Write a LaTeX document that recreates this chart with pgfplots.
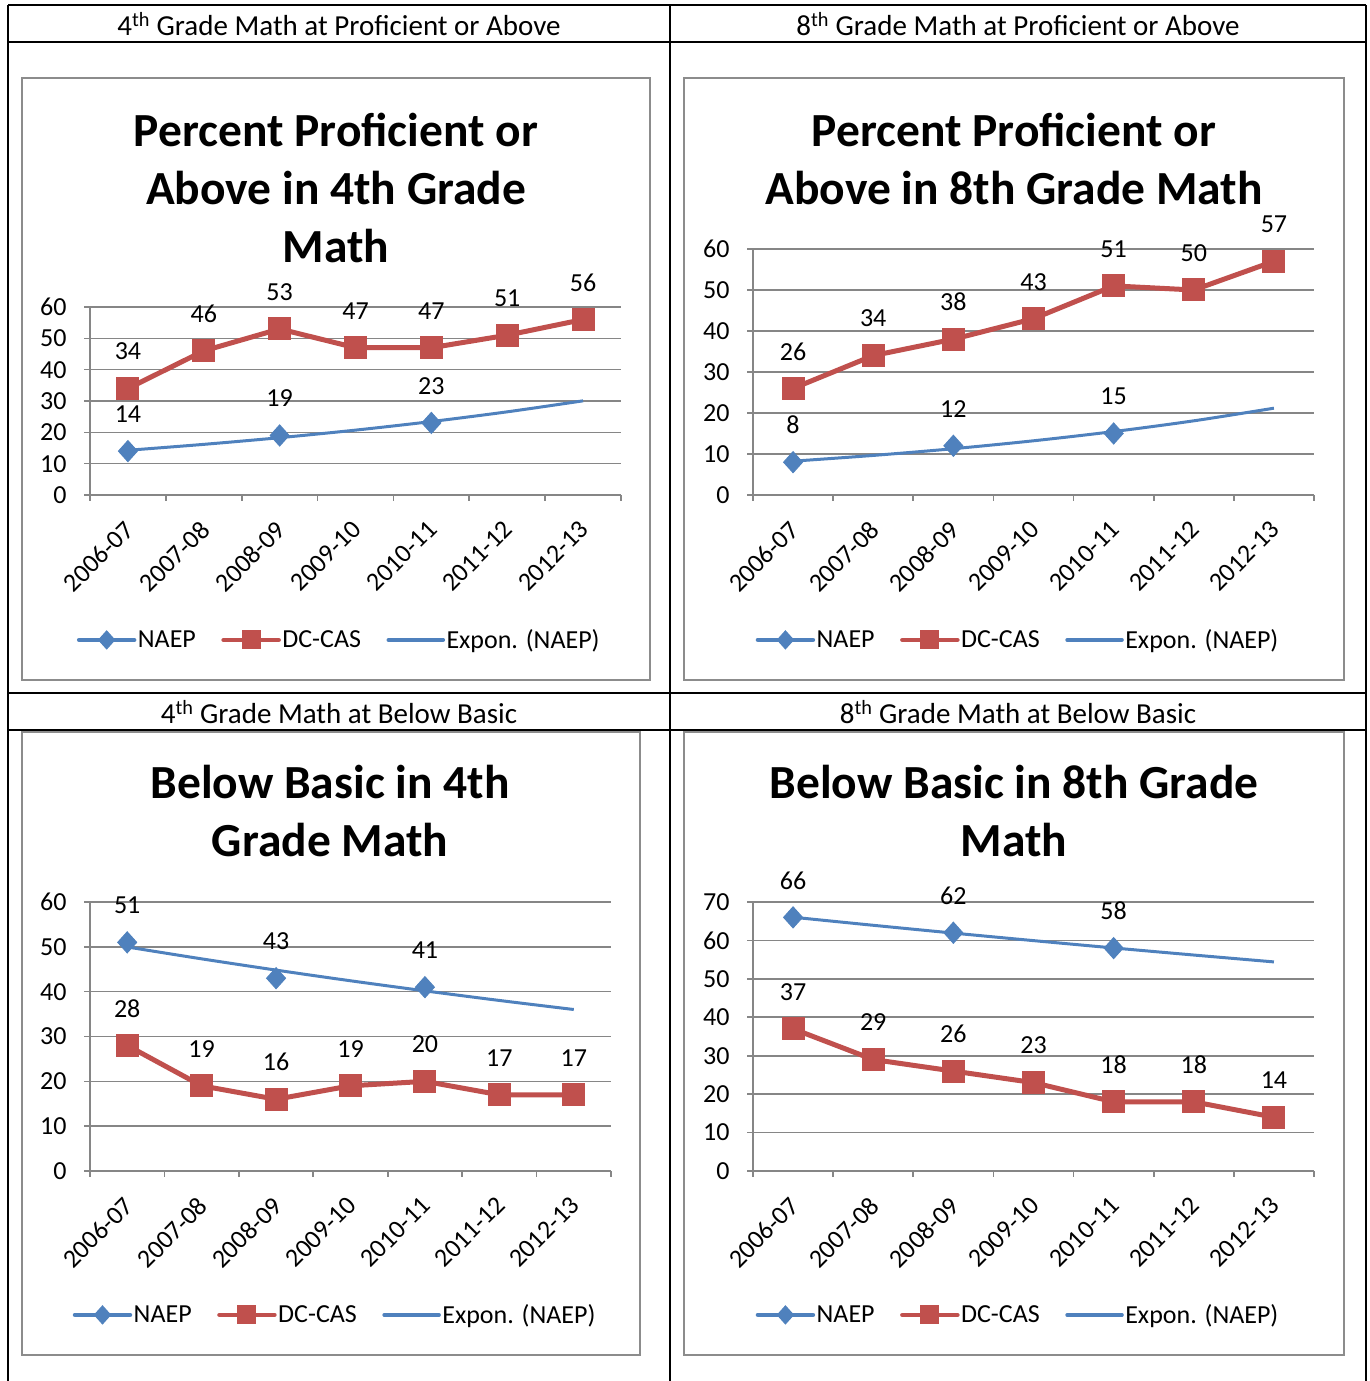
\documentclass[border=0pt]{standalone}
\usepackage{pgfplots}
\pgfplotsset{compat=1.18}
\usepackage{fontspec}
\setmainfont{Carlito}
\definecolor{naep}{HTML}{4F81BD}
\definecolor{dccas}{HTML}{C0504D}
\definecolor{gridgray}{HTML}{868686}
\definecolor{boxgray}{HTML}{8C8C8C}
\newcommand{\tickfont}{\fontsize{26}{30}\selectfont}
\newcommand{\headfont}{\fontsize{29}{34}\selectfont}
\newcommand{\titlefont}{\fontsize{47.5}{58}\selectfont\bfseries}
\pgfplotsset{
  chartstyle/.style={
    scale only axis,
    anchor=south west,
    xmin=0.5, xmax=7.5, ymin=0,
    axis x line*=bottom, axis y line*=left,
    axis line style={gridgray, line width=1.6pt, -},
    ymajorgrids, grid style={gridgray, line width=1.6pt},
    xtick={0.5,1.5,...,7.5},
    x tick label as interval,
    xticklabels={2006-07,2007-08,2008-09,2009-10,2010-11,2011-12,2012-13},
    xticklabel style={rotate=45, anchor=north east, font=\tickfont, xshift=-13pt, yshift=-6pt},
    yticklabel style={font=\tickfont, xshift=-14pt},
    tick align=outside, major tick length=6pt,
    tick style={gridgray, line width=1.6pt},
    /pgf/number format/assume math mode=true,
    legend columns=3,
    legend style={draw=none, fill=none, font=\tickfont, anchor=center,
      nodes={inner sep=1.5pt},
      /tikz/every even column/.append style={column sep=24pt}},
    legend image code/.code={\draw[mark repeat=2,mark phase=2,##1, mark size=9pt, line cap=round, line width=4.5pt] plot coordinates {(0pt,0pt) (27.5pt,0pt) (55pt,0pt)};},
  },
  naepstyle/.style={naep, line width=4.5pt, line cap=round, mark=diamond*, mark size=10.5pt,
    mark options={solid, fill=naep, line width=1pt, xscale=1.2},
    unbounded coords=jump, nodes near coords,
    every node near coord/.append style={black, font=\tickfont, anchor=center, yshift=37pt}},
  dcstyle/.style={dccas, line width=5pt, line cap=round, mark=square*, mark size=11pt,
    mark options={solid, fill=dccas, line width=1pt},
    nodes near coords,
    every node near coord/.append style={black, font=\tickfont, anchor=center, yshift=37pt}},
  trendstyle/.style={naep, line width=3pt, no marks, smooth},
  trendlegend/.style={naep, legend image code/.code={\draw[naep, line width=3.5pt, line cap=round] (0pt,0pt) -- (55pt,0pt);}},
}
\begin{document}
\begin{tikzpicture}[x=1pt,y=1pt]
\useasboundingbox (0,0) rectangle (1369,1381);
% table lines
\draw[black, line width=2pt] (8,1376) -- (1366,1376);
\draw[black, line width=2pt] (8,1339) -- (1366,1339);
\draw[black, line width=2pt] (8,688) -- (1366,688);
\draw[black, line width=2pt] (8,651) -- (1366,651);
\draw[black, line width=2pt] (8,1376) -- (8,0);
\draw[black, line width=2pt] (670,1376) -- (670,0);
\draw[black, line width=2pt] (1366,1376) -- (1366,0);
% headers
\node[font=\headfont] at (339,1357) {4\textsuperscript{th} Grade Math at Proficient or Above};
\node[font=\headfont] at (1018,1357) {8\textsuperscript{th} Grade Math at Proficient or Above};
\node[font=\headfont] at (339,669) {4\textsuperscript{th} Grade Math at Below Basic};
\node[font=\headfont] at (1018,669) {8\textsuperscript{th} Grade Math at Below Basic};
% chart boxes
\draw[boxgray, line width=2pt] (22,1303) rectangle (650,701);
\draw[boxgray, line width=2pt] (684,1303) rectangle (1344,701);
\draw[boxgray, line width=2pt] (22,649) rectangle (640,26);
\draw[boxgray, line width=2pt] (684,649) rectangle (1344,26);
% titles
\node[font=\titlefont, align=center] at (336,1193) {Percent Proficient or\\Above in 4th Grade\\Math};
\node[font=\titlefont, align=center] at (1014,1222) {Percent Proficient or\\Above in 8th Grade Math};
\node[font=\titlefont, align=center] at (330,570) {Below Basic in 4th\\Grade Math};
\node[font=\titlefont, align=center] at (1014,570) {Below Basic in 8th Grade\\Math};

% Chart 1
\begin{axis}[chartstyle, at={(90pt,886pt)}, width=531pt, height=188pt, ymax=60, ytick={0,10,...,60},
  legend style={at={(0.469,-0.771)}}]
\addplot[trendstyle, forget plot] coordinates {(1,14.27) (2,16.16) (3,18.29) (4,20.70) (5,23.44) (6,26.54) (7,30.05)};
\addplot[naepstyle] coordinates {(1,14) (2,nan) (3,19) (4,nan) (5,23) (6,nan) (7,nan)};
\addplot[dcstyle] coordinates {(1,34) (2,46) (3,53) (4,47) (5,47) (6,51) (7,56)};
\addlegendimage{trendlegend}
\legend{NAEP, DC-CAS, Expon. (NAEP)}
\end{axis}

% Chart 2
\begin{axis}[chartstyle, at={(753pt,886pt)}, width=561pt, height=246pt, ymax=60, ytick={0,10,...,60},
  legend style={at={(0.472,-0.589)}}]
\addplot[trendstyle, forget plot] coordinates {(1,8.25) (2,9.65) (3,11.29) (4,13.22) (5,15.47) (6,18.09) (7,21.17)};
\addplot[naepstyle] coordinates {(1,8) (2,nan) (3,12) (4,nan) (5,15) (6,nan) (7,nan)};
\addplot[dcstyle] coordinates {(1,26) (2,34) (3,38) (4,43) (5,51) (6,50) (7,57)};
\addlegendimage{trendlegend}
\legend{NAEP, DC-CAS, Expon. (NAEP)}
\end{axis}

% Chart 3
\begin{axis}[chartstyle, at={(90pt,210pt)}, width=521pt, height=269pt, ymax=60, ytick={0,10,...,60},
  legend style={at={(0.470,-0.535)}}]
\addplot[trendstyle, forget plot] coordinates {(1,49.97) (2,47.32) (3,44.81) (4,42.43) (5,40.18) (6,38.04) (7,36.02)};
\addplot[naepstyle] coordinates {(1,51) (2,nan) (3,43) (4,nan) (5,41) (6,nan) (7,nan)};
\addplot[dcstyle] coordinates {(1,28) (2,19) (3,16) (4,19) (5,20) (6,17) (7,17)};
\addlegendimage{trendlegend}
\legend{NAEP, DC-CAS, Expon. (NAEP)}
\end{axis}

% Chart 4
\begin{axis}[chartstyle, at={(753pt,210pt)}, width=561pt, height=269pt, ymax=70, ytick={0,10,...,70},
  legend style={at={(0.472,-0.535)}}]
\addplot[trendstyle, forget plot] coordinates {(1,66.04) (2,63.94) (3,61.91) (4,59.95) (5,58.04) (6,56.20) (7,54.41)};
\addplot[naepstyle] coordinates {(1,66) (2,nan) (3,62) (4,nan) (5,58) (6,nan) (7,nan)};
\addplot[dcstyle] coordinates {(1,37) (2,29) (3,26) (4,23) (5,18) (6,18) (7,14)};
\addlegendimage{trendlegend}
\legend{NAEP, DC-CAS, Expon. (NAEP)}
\end{axis}
\end{tikzpicture}
\end{document}
